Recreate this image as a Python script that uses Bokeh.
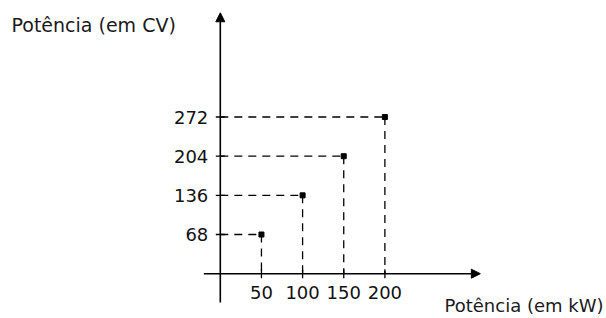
from bokeh.plotting import figure
from bokeh.models import Range1d, Arrow, NormalHead, Label, ColumnDataSource
from bokeh.core.properties import value
from bokeh.embed import file_html
from bokeh.resources import INLINE

# Data
kw = [50, 100, 150, 200]
cv = [68, 136, 204, 272]
x_tick_labels = ["50", "100", "150", "200"]
y_tick_labels = ["68", "136", "204", "272"]
x_title = "Potência (em kW)"
y_title = "Potência (em CV)"

W, H = 606, 318
p = figure(width=W, height=H, output_backend="svg", toolbar_location=None,
           x_range=Range1d(-267.1, 469.3), y_range=Range1d(-77.8, 474.3),
           x_axis_type=None, y_axis_type=None, min_border=0)
p.outline_line_color = None
p.xgrid.visible = False
p.ygrid.visible = False
p.background_fill_color = "white"
p.border_fill_color = "white"

# Axes with arrowheads
p.add_layout(Arrow(end=NormalHead(size=9, fill_color="black", line_color="black"),
                   x_start=0, y_start=-50, x_end=0, y_end=453,
                   line_color="black", line_width=1.6))
p.add_layout(Arrow(end=NormalHead(size=9, fill_color="black", line_color="black"),
                   x_start=-20, y_start=0, x_end=316, y_end=0,
                   line_color="black", line_width=1.6))

src = ColumnDataSource(dict(kw=kw, cv=cv, zero=[0] * len(kw),
                            xl=x_tick_labels, yl=y_tick_labels))

# Dashed guide lines
p.segment(x0="zero", y0="cv", x1="kw", y1="cv", source=src,
          line_color="black", line_width=1.3, line_dash="8 6")
p.segment(x0="kw", y0="cv", x1="kw", y1="zero", source=src,
          line_color="black", line_width=1.3, line_dash="8 6")

# Tick marks
p.dash(x="zero", y="cv", source=src, size=9, line_color="black", line_width=1.3)
p.dash(x="kw", y="zero", source=src, size=9, angle=1.5708, line_color="black", line_width=1.3)

# Points
p.scatter(x="kw", y="cv", source=src, marker="square", size=5,
          fill_color="black", line_color="black")

# Tick labels
p.text(x="zero", y="cv", text="yl", source=src, text_align="right", text_baseline="middle",
       x_offset=-12, text_font=value("DejaVu Sans"), text_font_size="18px", text_color="#111111")
p.text(x="kw", y="zero", text="xl", source=src, text_align="center", text_baseline="middle",
       y_offset=19, text_font=value("DejaVu Sans"), text_font_size="18px", text_color="#111111")

# Axis titles
p.add_layout(Label(x=11, y=H - 24, x_units="screen", y_units="screen", text=y_title,
                   text_font="DejaVu Sans", text_font_size="19px", text_baseline="middle",
                   text_color="#1a1a1a"))
p.add_layout(Label(x=603, y=H - 305, x_units="screen", y_units="screen", text=x_title,
                   text_font="DejaVu Sans", text_font_size="18px", text_baseline="middle",
                   text_align="right", text_color="#1a1a1a"))

open("out.html", "w").write(file_html(p, INLINE))
